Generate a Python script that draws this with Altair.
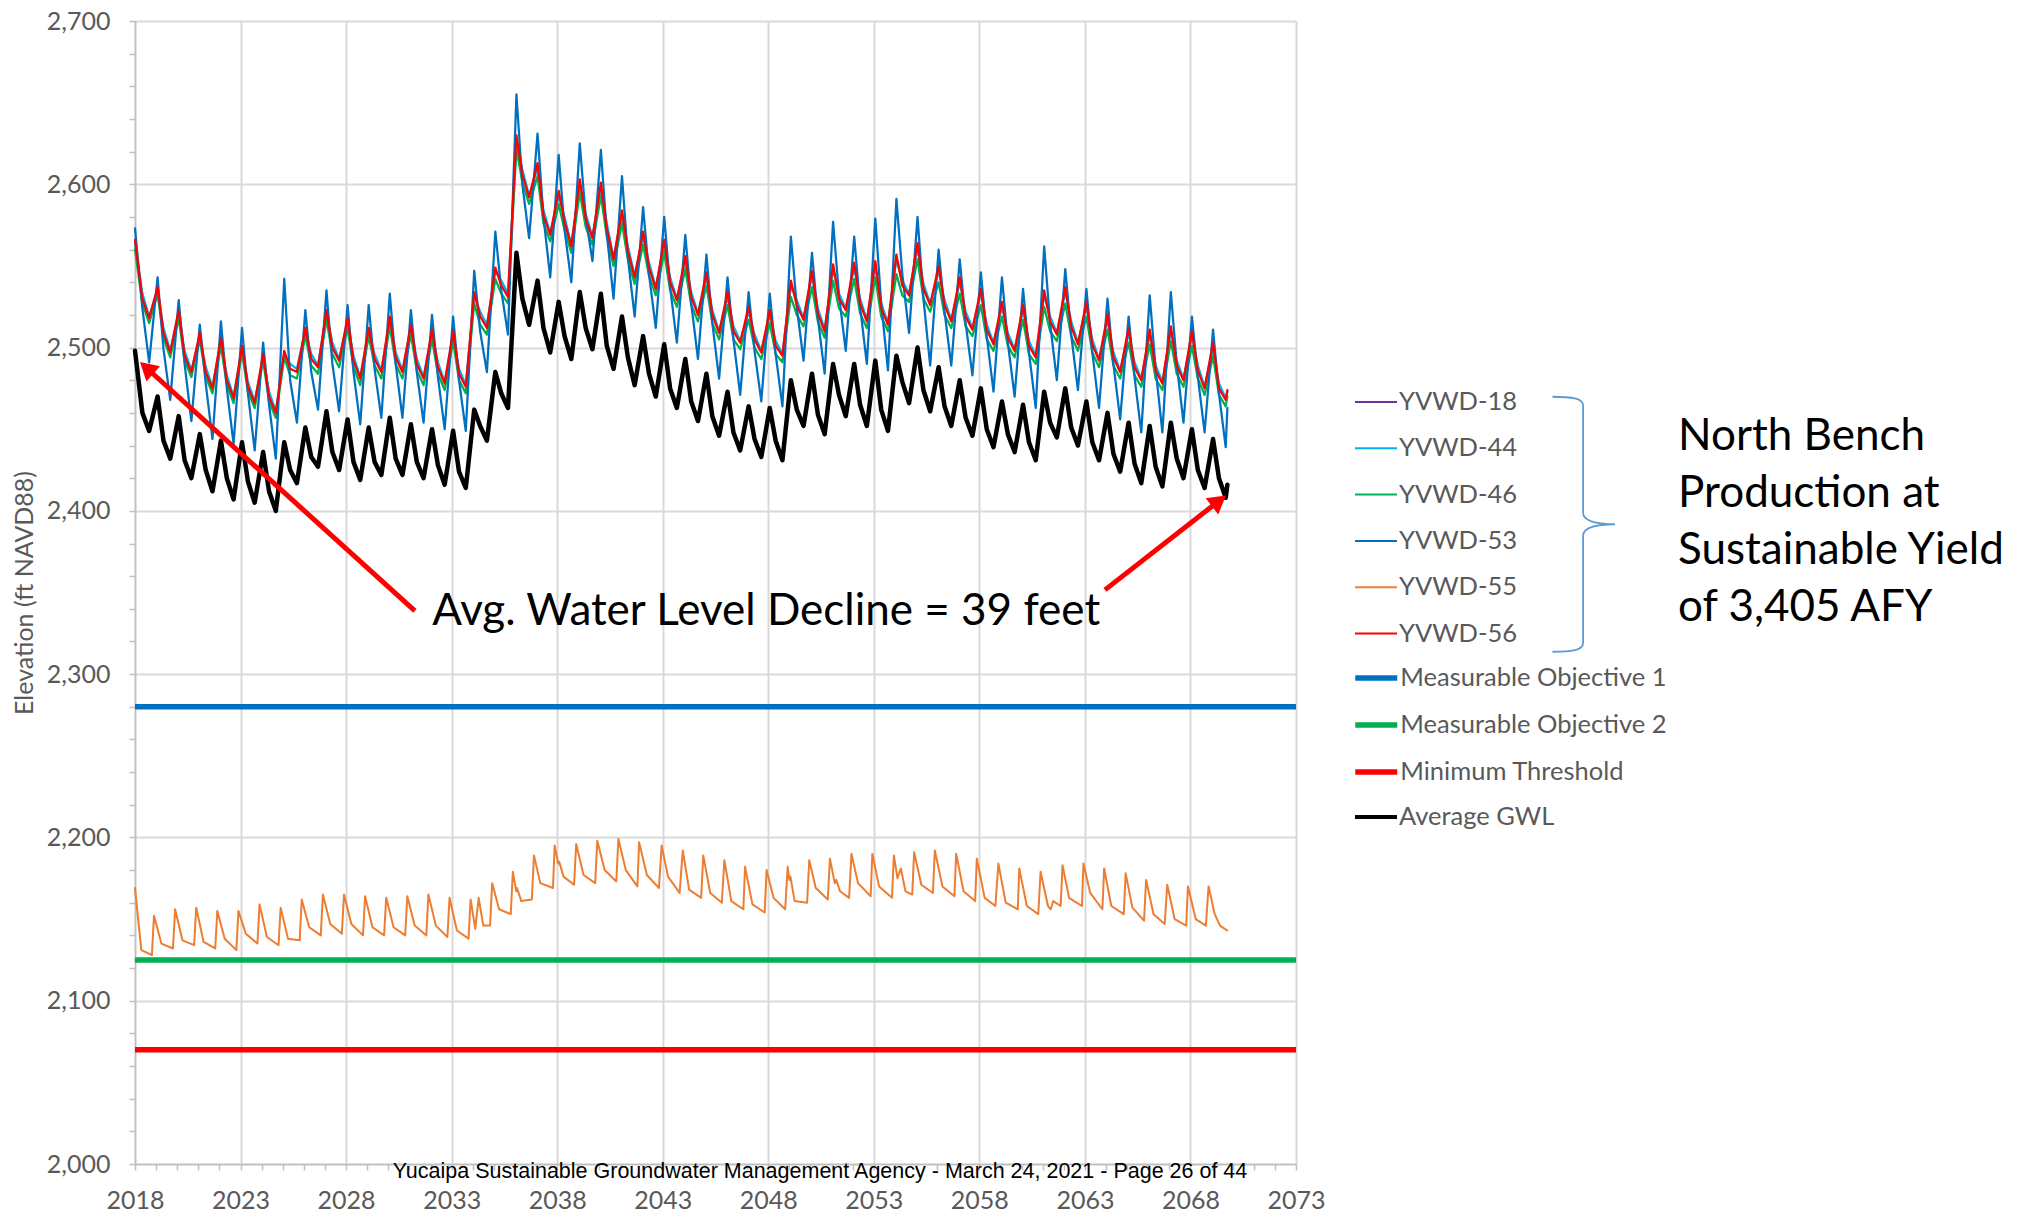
import altair as alt
import pandas as pd

# ---------------- legend / styling keys ----------------
WELLS = ["YVWD-18", "YVWD-44", "YVWD-46", "YVWD-53", "YVWD-55", "YVWD-56"]
WELL_COLORS = ["#7030A0", "#00B0F0", "#00B050", "#0070C0", "#ED7D31", "#FF0000"]
WELL_WIDTHS = [2, 2.25, 2.25, 2.25, 2, 2.25]
THRESH_NAMES = ["Measurable Objective 1", "Measurable Objective 2", "Minimum Threshold"]
THRESH_COLORS = ["#0070C0", "#00B050", "#FF0000"]
THRESH_WIDTH = 5.5
AVG_NAME = "Average GWL"
AVG_COLOR = "#000000"
AVG_WIDTH = 4.5

# ---------------- well data ----------------
# one tuple per year 2018..2069: (winter peak, mid-year, autumn trough)
YEARS = list(range(2018, 2070))
PEAK_OFF, MID_OFF, TROUGH_OFF = 0.07, 0.35, 0.67
END_T = 2069.75

AVG_GWL = [(2498, 2460, 2449), (2470, 2443, 2432), (2458, 2431, 2420), (2447, 2425, 2412),
           (2443, 2420, 2407), (2442, 2418, 2405), (2436, 2412, 2400), (2442, 2425, 2417),
           (2451, 2433, 2427), (2461, 2436, 2425), (2456, 2430, 2419), (2451, 2430, 2422),
           (2457, 2432, 2422), (2453, 2430, 2420), (2450, 2428, 2416), (2449, 2424, 2414),
           (2462, 2452, 2443), (2485, 2472, 2463), (2558, 2530, 2514), (2541, 2512, 2497),
           (2528, 2507, 2493), (2534, 2512, 2499), (2533, 2501, 2487), (2519, 2494, 2477),
           (2507, 2484, 2470), (2502, 2475, 2463), (2493, 2467, 2455), (2484, 2458, 2446),
           (2473, 2448, 2437), (2464, 2444, 2433), (2463, 2443, 2431), (2480, 2462, 2452),
           (2484, 2459, 2447), (2490, 2471, 2458), (2490, 2465, 2452), (2492, 2462, 2449),
           (2495, 2479, 2466), (2500, 2474, 2461), (2488, 2464, 2452), (2480, 2457, 2446),
           (2475, 2450, 2439), (2467, 2447, 2436), (2465, 2442, 2431), (2473, 2454, 2445),
           (2475, 2451, 2440), (2467, 2442, 2431), (2460, 2435, 2424), (2454, 2429, 2417),
           (2452, 2427, 2415), (2454, 2432, 2420), (2450, 2425, 2414), (2444, 2420, 2408)]
AVG_END = 2416

Y56 = [(2566, 2530, 2518), (2537, 2509, 2497), (2523, 2495, 2485), (2509, 2485, 2475),
       (2506, 2480, 2469), (2501, 2476, 2466), (2496, 2470, 2460), (2498, 2487, 2485),
       (2512, 2493, 2488), (2523, 2500, 2492), (2518, 2492, 2481), (2512, 2493, 2485),
       (2519, 2494, 2485), (2514, 2490, 2481), (2511, 2488, 2478), (2510, 2484, 2476),
       (2534, 2519, 2512), (2549, 2538, 2531), (2630, 2606, 2592), (2613, 2581, 2569),
       (2596, 2577, 2562), (2603, 2579, 2567), (2601, 2573, 2554), (2584, 2559, 2543),
       (2571, 2549, 2536), (2566, 2540, 2529), (2556, 2531, 2520), (2546, 2520, 2509),
       (2534, 2510, 2503), (2525, 2505, 2497), (2523, 2501, 2495), (2541, 2526, 2517),
       (2547, 2521, 2510), (2551, 2530, 2523), (2552, 2527, 2516), (2553, 2524, 2514),
       (2557, 2538, 2532), (2564, 2536, 2526), (2550, 2526, 2516), (2543, 2519, 2511),
       (2536, 2511, 2502), (2528, 2506, 2498), (2526, 2501, 2494), (2535, 2516, 2508),
       (2537, 2513, 2502), (2528, 2502, 2492), (2520, 2494, 2485), (2512, 2488, 2480),
       (2511, 2486, 2478), (2513, 2489, 2480), (2510, 2486, 2475), (2503, 2475, 2468)]
Y56_END = 2474

Y46 = [(2560, 2527, 2515), (2533, 2506, 2494), (2518, 2492, 2482), (2505, 2482, 2472),
       (2501, 2477, 2466), (2497, 2473, 2463), (2492, 2467, 2457), (2494, 2483, 2481),
       (2507, 2489, 2484), (2517, 2496, 2488), (2512, 2488, 2477), (2507, 2489, 2481),
       (2513, 2490, 2481), (2508, 2486, 2477), (2505, 2484, 2474), (2504, 2480, 2472),
       (2527, 2514, 2508), (2542, 2533, 2527), (2622, 2601, 2588), (2605, 2576, 2565),
       (2588, 2572, 2558), (2595, 2574, 2563), (2593, 2568, 2550), (2576, 2554, 2539),
       (2563, 2544, 2532), (2558, 2535, 2525), (2548, 2526, 2516), (2538, 2515, 2505),
       (2526, 2505, 2499), (2517, 2500, 2493), (2515, 2496, 2491), (2531, 2520, 2513),
       (2537, 2516, 2506), (2541, 2524, 2519), (2542, 2521, 2512), (2543, 2519, 2510),
       (2545, 2532, 2528), (2554, 2530, 2522), (2540, 2520, 2512), (2533, 2513, 2507),
       (2526, 2505, 2498), (2519, 2501, 2494), (2517, 2496, 2490), (2525, 2510, 2504),
       (2527, 2507, 2498), (2519, 2497, 2488), (2511, 2489, 2481), (2503, 2483, 2476),
       (2502, 2481, 2474), (2504, 2484, 2476), (2501, 2481, 2471), (2495, 2471, 2464)]
Y46_END = 2470

Y44 = [(2564, 2533, 2519), (2535, 2512, 2498), (2521, 2498, 2486), (2507, 2488, 2476),
       (2504, 2483, 2470), (2499, 2479, 2467), (2494, 2473, 2461), (2496, 2490, 2487),
       (2510, 2496, 2489), (2521, 2503, 2493), (2516, 2495, 2482), (2510, 2496, 2486),
       (2517, 2497, 2486), (2512, 2493, 2482), (2509, 2491, 2479), (2508, 2487, 2477),
       (2532, 2522, 2514), (2547, 2541, 2533), (2627, 2609, 2593), (2610, 2584, 2570),
       (2593, 2580, 2563), (2600, 2582, 2568), (2598, 2576, 2555), (2581, 2562, 2544),
       (2568, 2552, 2537), (2563, 2543, 2530), (2553, 2534, 2521), (2543, 2523, 2510),
       (2531, 2513, 2504), (2522, 2508, 2498), (2520, 2504, 2496), (2538, 2529, 2518),
       (2544, 2524, 2511), (2548, 2533, 2524), (2549, 2530, 2517), (2550, 2527, 2515),
       (2554, 2541, 2533), (2561, 2539, 2527), (2547, 2529, 2517), (2540, 2522, 2512),
       (2533, 2514, 2503), (2525, 2509, 2499), (2523, 2504, 2495), (2532, 2519, 2509),
       (2534, 2516, 2503), (2525, 2505, 2493), (2517, 2497, 2486), (2509, 2491, 2481),
       (2508, 2489, 2479), (2510, 2492, 2481), (2507, 2489, 2476), (2500, 2478, 2469)]
Y44_END = 2473

Y53 = [(2573, 2524, 2491), (2543, 2499, 2468), (2529, 2490, 2455), (2514, 2478, 2444),
       (2516, 2475, 2441), (2512, 2472, 2437), (2503, 2465, 2432), (2542, 2480, 2454),
       (2523, 2485, 2462), (2535, 2490, 2461), (2526, 2485, 2453), (2526, 2487, 2457),
       (2533, 2490, 2457), (2523, 2485, 2454), (2520, 2482, 2450), (2519, 2480, 2449),
       (2547, 2510, 2485), (2571, 2535, 2508), (2655, 2600, 2567), (2631, 2580, 2543),
       (2618, 2572, 2540), (2625, 2580, 2553), (2621, 2570, 2530), (2605, 2555, 2519),
       (2586, 2545, 2512), (2580, 2537, 2503), (2569, 2527, 2493), (2557, 2515, 2481),
       (2543, 2505, 2471), (2534, 2498, 2467), (2533, 2496, 2464), (2568, 2525, 2492),
       (2558, 2518, 2484), (2577, 2532, 2498), (2568, 2525, 2490), (2579, 2527, 2486),
       (2591, 2545, 2509), (2580, 2530, 2489), (2560, 2522, 2489), (2554, 2515, 2483),
       (2546, 2507, 2473), (2543, 2503, 2470), (2536, 2497, 2463), (2562, 2515, 2480),
       (2548, 2508, 2474), (2536, 2497, 2463), (2530, 2490, 2456), (2519, 2482, 2448),
       (2532, 2487, 2448), (2534, 2490, 2454), (2519, 2482, 2448), (2511, 2472, 2439)]
Y53_END = 2463

# YVWD-55: (time, elevation) points of its saw-tooth record
Y55 = [(2018.0, 2169), (2018.3, 2131), (2018.8, 2128), (2018.9, 2152), (2019.25, 2135), (2019.8, 2132),
       (2019.9, 2156), (2020.25, 2137), (2020.8, 2134), (2020.9, 2157), (2021.25, 2136), (2021.8, 2132),
       (2021.9, 2155), (2022.25, 2138), (2022.8, 2131), (2022.9, 2155), (2023.25, 2141), (2023.8, 2135),
       (2023.9, 2159), (2024.25, 2139), (2024.8, 2134), (2024.9, 2157), (2025.25, 2138), (2025.8, 2137),
       (2025.9, 2162), (2026.25, 2145), (2026.8, 2140), (2026.9, 2165), (2027.25, 2147), (2027.8, 2141),
       (2027.9, 2165), (2028.25, 2147), (2028.8, 2140), (2028.9, 2164), (2029.25, 2145), (2029.8, 2140),
       (2029.9, 2163), (2030.25, 2145), (2030.8, 2140), (2030.9, 2164), (2031.25, 2146), (2031.8, 2140),
       (2031.9, 2165), (2032.25, 2146), (2032.8, 2139), (2032.9, 2163), (2033.25, 2143), (2033.8, 2138),
       (2033.9, 2162), (2034.12, 2144), (2034.28, 2163), (2034.5, 2146), (2034.82, 2146),
       (2034.92, 2172), (2035.25, 2156), (2035.8, 2153),
       (2035.9, 2179), (2036.06, 2167), (2036.1, 2169), (2036.3, 2161), (2036.8, 2162),
       (2036.9, 2189), (2037.2, 2172), (2037.8, 2169),
       (2037.88, 2195), (2038.05, 2184), (2038.1, 2185), (2038.3, 2176), (2038.8, 2171),
       (2038.9, 2196), (2039.25, 2177), (2039.8, 2172), (2039.9, 2198), (2040.25, 2180), (2040.8, 2173),
       (2040.9, 2199), (2041.25, 2180), (2041.8, 2170), (2041.88, 2197), (2042.25, 2177), (2042.82, 2169),
       (2042.95, 2195), (2043.25, 2176), (2043.8, 2166), (2043.95, 2192), (2044.25, 2168), (2044.82, 2163),
       (2044.92, 2189), (2045.25, 2166), (2045.8, 2160), (2045.92, 2186), (2046.25, 2161), (2046.82, 2156),
       (2046.9, 2182), (2047.25, 2159), (2047.83, 2154), (2047.92, 2180), (2048.25, 2163), (2048.8, 2156),
       (2048.92, 2182), (2049.0, 2174), (2049.05, 2176), (2049.25, 2161), (2049.84, 2160),
       (2049.94, 2186), (2050.25, 2169), (2050.82, 2162),
       (2050.92, 2187), (2051.15, 2172), (2051.22, 2174), (2051.4, 2167), (2051.83, 2163),
       (2051.94, 2190), (2052.25, 2172), (2052.85, 2164), (2052.93, 2190), (2053.25, 2170), (2053.86, 2163),
       (2053.95, 2189), (2054.12, 2175), (2054.28, 2181), (2054.5, 2167), (2054.82, 2165),
       (2054.91, 2191), (2055.25, 2171), (2055.8, 2166), (2055.89, 2192), (2056.25, 2170), (2056.82, 2164),
       (2056.9, 2190), (2057.25, 2167), (2057.8, 2161), (2057.88, 2187), (2058.25, 2163), (2058.76, 2158),
       (2058.9, 2184), (2059.25, 2160), (2059.82, 2156), (2059.89, 2181), (2060.25, 2158), (2060.79, 2153),
       (2060.9, 2179), (2061.25, 2158), (2061.38, 2156), (2061.5, 2161), (2061.85, 2158),
       (2061.94, 2183), (2062.25, 2163), (2062.86, 2158), (2062.93, 2184), (2063.25, 2166), (2063.83, 2156),
       (2063.91, 2181), (2064.25, 2158), (2064.84, 2153), (2064.93, 2178), (2065.25, 2157), (2065.8, 2149),
       (2065.9, 2174), (2066.25, 2153), (2066.78, 2147), (2066.9, 2171), (2067.25, 2150), (2067.8, 2146),
       (2067.88, 2170), (2068.25, 2150), (2068.73, 2146), (2068.86, 2170), (2069.15, 2153), (2069.4, 2146),
       (2069.74, 2143)]

# thresholds
THRESH_VALUES = [2280, 2125, 2070]
X_START, X_END = 2018, 2073

# annotations (data coordinates)
ARROW_TAIL_T = [2031.26, 2063.95]
ARROW_TAIL_V = [2338.7, 2351.6]
ARROW_HEAD_T = [2018.55, 2069.35]
ARROW_HEAD_V = [2487.5, 2406.1]
ARROW_ANGLE = [312, 52]

DECLINE_TEXT = "Avg. Water Level Decline = 39 feet"
DECLINE_POS = (2047.9, 2338)
NOTE_LINES = ["North Bench", "Production at", "Sustainable Yield", "of 3,405 AFY"]
NOTE_POS = (2091.1, 2445.4)
BRACE_POS = (2086.6, 2391.8)
FOOTER_TEXT = "Yucaipa Sustainable Groundwater Management Agency - March 24, 2021 - Page 26 of 44"
FOOTER_POS = (2050.45, 1994.9)

BRACE_PATH = ("M -0.24 -1 C -0.09 -1 0 -0.99 0 -0.93 L 0 -0.09 C 0 -0.03 0.09 0 0.25 0 "
              "C 0.09 0 0 0.03 0 0.09 L 0 0.93 C 0 0.99 -0.09 1 -0.24 1")

# ---------------- build long table ----------------
WIDTH_OF = dict(zip(WELLS, WELL_WIDTHS))
WIDTH_OF.update({n: THRESH_WIDTH for n in THRESH_NAMES})
WIDTH_OF[AVG_NAME] = AVG_WIDTH

def cluster_rows(name, triples, end):
    assert len(triples) == len(YEARS)
    rows = []
    for y, (p, m, tr) in zip(YEARS, triples):
        tp = 2018.0 if y == 2018 else y + PEAK_OFF
        rows += [(name, tp, p), (name, y + MID_OFF, m), (name, y + TROUGH_OFF, tr)]
    rows.append((name, END_T, end))
    return rows

rows = []
rows += cluster_rows("YVWD-44", Y44, Y44_END)
rows += cluster_rows("YVWD-46", Y46, Y46_END)
rows += cluster_rows("YVWD-53", Y53, Y53_END)
rows += [("YVWD-55", t, v) for t, v in Y55]
rows += cluster_rows("YVWD-56", Y56, Y56_END)
rows += cluster_rows(AVG_NAME, AVG_GWL, AVG_END)
for n, v in zip(THRESH_NAMES, THRESH_VALUES):
    rows += [(n, X_START, v), (n, X_END, v)]
df = pd.DataFrame(rows, columns=["series", "t", "v"])
df["w"] = df["series"].map(WIDTH_OF)

GRAY = "#595959"
FONT = "Lato"

x_scale = alt.Scale(domain=[2018, 2073], nice=False, zero=False)
y_scale = alt.Scale(domain=[2000, 2700], nice=False, zero=False)

x_axis = alt.Axis(
    values=list(range(2018, 2074)), title=None,
    labelExpr="(datum.value - 2018) % 5 === 0 ? format(datum.value, 'd') : ''",
    gridOpacity={"condition": {"test": "(datum.value - 2018) % 5 === 0", "value": 1}, "value": 0},
    grid=True, gridColor="#D9D9D9", gridWidth=2,
    domainColor="#BFBFBF", domainWidth=1.5, tickColor="#BFBFBF", tickWidth=1.5, tickSize=6,
    labelFont=FONT, labelFontSize=25, labelColor=GRAY, labelPadding=18,
    labelOverlap=False, labelFlush=False, labelBound=False)
y_axis = alt.Axis(
    values=list(range(2000, 2701, 20)), title="Elevation (ft NAVD88)",
    labelExpr="datum.value % 100 === 0 ? format(datum.value, ',') : ''",
    gridOpacity={"condition": {"test": "datum.value % 100 === 0", "value": 1}, "value": 0},
    grid=True, gridColor="#D9D9D9", gridWidth=2,
    domainColor="#BFBFBF", domainWidth=1.5, tickColor="#BFBFBF", tickWidth=1.5, tickSize=6,
    labelFont=FONT, labelFontSize=25, labelColor=GRAY, labelPadding=19,
    labelOverlap=False, labelFlush=False,
    titleFont=FONT, titleFontSize=25, titleFontWeight="normal", titleColor=GRAY, titlePadding=9)

def X(field):
    return alt.X(field, scale=x_scale, axis=x_axis)

def Y(field):
    return alt.Y(field, scale=y_scale, axis=y_axis)

LEG_X = 1219

def make_legend(y, sw, row_pad):
    # symbol column grows with stroke width: shift so all symbols/labels line up
    extra = (sw - 2) / 2
    return alt.Legend(title=None, orient="none", legendX=LEG_X - extra, legendY=y,
                      symbolType="stroke", symbolSize=1764, symbolStrokeWidth=sw,
                      labelFont=FONT, labelFontSize=25.5, labelColor=GRAY,
                      rowPadding=row_pad, labelOffset=max(0.0, 1 - extra), labelLimit=500)

well_color = alt.Color("series:N", scale=alt.Scale(domain=WELLS, range=WELL_COLORS),
                       legend=make_legend(359, 2, 10.3))
thr_color = alt.Color("series:N", scale=alt.Scale(domain=THRESH_NAMES, range=THRESH_COLORS),
                      legend=make_legend(633, 5.5, 9))
avg_color = alt.Color("series:N", scale=alt.Scale(domain=[AVG_NAME], range=[AVG_COLOR]),
                      legend=make_legend(773, 4, 10))
swidth = alt.StrokeWidth("w:Q", scale=None, legend=None)

def series_layer(name, color):
    return alt.Chart(df).transform_filter(alt.datum.series == name).mark_line(
        strokeJoin="round", strokeCap="round" if name not in THRESH_NAMES else "butt"
    ).encode(x=X("t:Q"), y=Y("v:Q"), color=color, strokeWidth=swidth)

thr_group = alt.layer(*[series_layer(n, thr_color) for n in THRESH_NAMES])
well_group = alt.layer(*[series_layer(s, well_color)
                         for s in ["YVWD-44", "YVWD-46", "YVWD-53", "YVWD-55", "YVWD-56"]])
avg_group = series_layer(AVG_NAME, avg_color)

ann = []
arrows = pd.DataFrame({"t": ARROW_TAIL_T, "v": ARROW_TAIL_V, "t2": ARROW_HEAD_T,
                       "v2": ARROW_HEAD_V})
ann.append(alt.Chart(arrows).mark_rule(color="#FF0000", strokeWidth=5).encode(
    x=X("t:Q"), y=Y("v:Q"), x2="t2:Q", y2="v2:Q"))
heads = pd.DataFrame({"t": ARROW_HEAD_T, "v": ARROW_HEAD_V, "ang": ARROW_ANGLE})
ann.append(alt.Chart(heads).mark_point(shape="triangle-up", filled=True, color="#FF0000",
                                        opacity=1, size=420).encode(
    x=X("t:Q"), y=Y("v:Q"), angle=alt.Angle("ang:Q", scale=None)))

txt = pd.DataFrame({"t": [DECLINE_POS[0]], "v": [DECLINE_POS[1]], "label": [DECLINE_TEXT]})
ann.append(alt.Chart(txt).mark_text(font=FONT, fontSize=44, color="#000000", align="center",
                                    baseline="middle").encode(
    x=X("t:Q"), y=Y("v:Q"), text="label:N"))

note = pd.DataFrame({"t": [NOTE_POS[0]], "v": [NOTE_POS[1]]})
ann.append(alt.Chart(note).mark_text(font=FONT, fontSize=44, color="#000000", align="left",
                                     baseline="middle", lineHeight=57, text=NOTE_LINES).encode(
    x=X("t:Q"), y=Y("v:Q")))

brace = pd.DataFrame({"t": [BRACE_POS[0]], "v": [BRACE_POS[1]]})
ann.append(alt.Chart(brace).mark_point(shape=BRACE_PATH, size=65025, filled=False,
                                       stroke="#5B9BD5", strokeWidth=1.8, opacity=1).encode(
    x=X("t:Q"), y=Y("v:Q")))

foot = pd.DataFrame({"t": [FOOTER_POS[0]], "v": [FOOTER_POS[1]], "label": [FOOTER_TEXT]})
ann.append(alt.Chart(foot).mark_text(font="Liberation Sans", fontSize=21.5, color="#000000",
                                     align="center", baseline="middle").encode(
    x=X("t:Q"), y=Y("v:Q"), text="label:N"))

chart = alt.layer(thr_group, well_group, avg_group, *ann).resolve_scale(
    color="independent"
).properties(
    width=1161, height=1143,
    padding={"left": 127, "top": 13, "right": 732, "bottom": 48},
    autosize=alt.AutoSizeParams(type="none"),
).configure_view(stroke=None)

chart.save("out.html", embed_options={"renderer": "svg", "actions": False})
